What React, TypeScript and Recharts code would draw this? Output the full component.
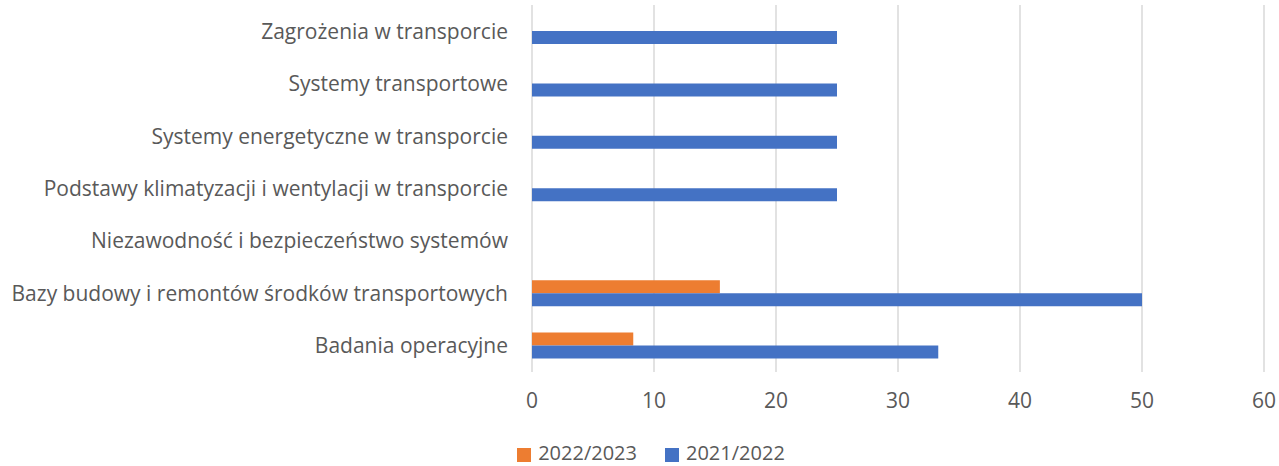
import { BarChart, Bar, XAxis, YAxis, CartesianGrid, Legend } from 'recharts';

const categories = [
  'Zagrożenia w transporcie',
  'Systemy transportowe',
  'Systemy energetyczne w transporcie',
  'Podstawy klimatyzacji i wentylacji w transporcie',
  'Niezawodność i bezpieczeństwo systemów',
  'Bazy budowy i remontów środków transportowych',
  'Badania operacyjne',
];

const values2022 = [0, 0, 0, 0, 0, 15.4, 8.3];
const values2021 = [25, 25, 25, 25, 0, 50, 33.3];

const xTicks = [0, 10, 20, 30, 40, 50, 60];

// keys named so the legend sorts 2022/2023 first
const data = categories.map((name, i) => ({
  name,
  a2022: values2022[i],
  b2021: values2021[i],
}));

const textColor = '#595959';
const font = '"Open Sans", sans-serif';

export default function App() {
  return (
    <div style={{ position: 'absolute', left: 0, top: 0, fontFamily: font }}>
      <BarChart
        width={1279}
        height={466}
        data={data}
        layout="vertical"
        margin={{ top: 5, right: 15, bottom: 0, left: 0 }}
        barGap={0}
        barSize={13}
      >
        <CartesianGrid horizontal={false} stroke="#D9D9D9" strokeWidth={1.5} />
        <XAxis
          type="number"
          domain={[0, 60]}
          ticks={xTicks}
          axisLine={false}
          tickLine={false}
          tickSize={0}
          tickMargin={21}
          height={50}
          tick={{ fill: textColor, fontSize: 21, fontFamily: font }}
        />
        <YAxis
          type="category"
          dataKey="name"
          width={532}
          axisLine={false}
          tickLine={false}
          tickSize={0}
          tickMargin={24}
          tick={{ fill: textColor, fontSize: 21, fontFamily: font }}
        />
        <Legend
          verticalAlign="bottom"
          height={44}
          iconType="square"
          iconSize={14}
          itemSorter="dataKey"
          wrapperStyle={{
            fontSize: 20,
            lineHeight: '20px',
            color: textColor,
            top: 443,
            left: 33,
            width: 1264,
          }}
          formatter={(value) => (
            <span style={{ color: textColor, marginLeft: 3, marginRight: 18 }}>{value}</span>
          )}
        />
        <Bar dataKey="a2022" name="2022/2023" fill="#ED7D31" isAnimationActive={false} />
        <Bar dataKey="b2021" name="2021/2022" fill="#4472C4" isAnimationActive={false} />
      </BarChart>
    </div>
  );
}
